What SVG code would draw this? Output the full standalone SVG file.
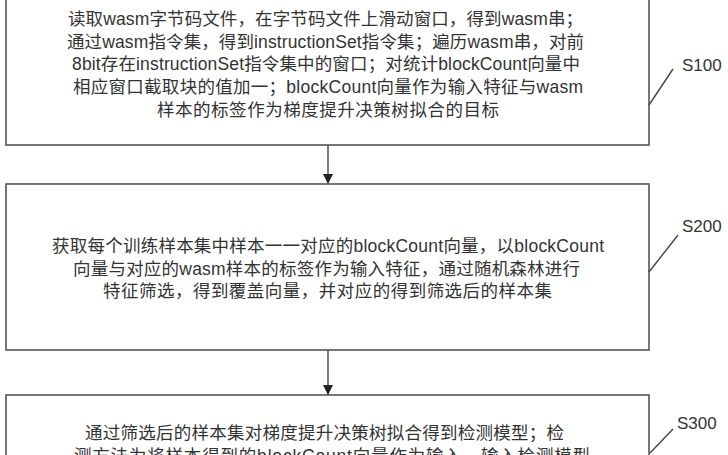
<svg xmlns="http://www.w3.org/2000/svg" width="728" height="455" viewBox="0 0 728 455">
<style>
.box{fill:#ffffff;stroke:#555555;stroke-width:1.6}
.t{font-family:'Liberation Sans','Noto Sans CJK SC',sans-serif;font-size:17.5px;fill:#333333}
.lbl{font-family:'Liberation Sans',Arial,sans-serif;font-size:17px;fill:#333333}
.ln{stroke:#444444;stroke-width:1.4;fill:none}
</style>
<defs>
<marker id="ah" markerWidth="10" markerHeight="12" refX="9" refY="5" orient="auto" markerUnits="userSpaceOnUse">
<path d="M0,0 L10,5 L0,10 Z" fill="#222222"/>
</marker>
</defs>
<rect width="728" height="455" fill="#ffffff"/>
<g id="connectors">
<line class="ln" x1="328" y1="145" x2="328" y2="183" marker-end="url(#ah)"/>
<line class="ln" x1="328" y1="350" x2="328" y2="394" marker-end="url(#ah)"/>
</g>
<g id="S100">
<rect class="box" x="6" y="-5" width="643" height="150"/>
<text class="t" x="68" y="25" textLength="515" lengthAdjust="spacing">读取wasm字节码文件，在字节码文件上滑动窗口，得到wasm串；</text>
<text class="t" x="67" y="48" textLength="517" lengthAdjust="spacing">通过wasm指令集，得到instructionSet指令集；遍历wasm串，对前</text>
<text class="t" x="72" y="70" textLength="508" lengthAdjust="spacing">8bit存在instructionSet指令集中的窗口；对统计blockCount向量中</text>
<text class="t" x="73" y="93" textLength="510" lengthAdjust="spacing">相应窗口截取块的值加一；blockCount向量作为输入特征与wasm</text>
<text class="t" x="157" y="116" textLength="342" lengthAdjust="spacing">样本的标签作为梯度提升决策树拟合的目标</text>
<line class="ln" x1="649" y1="105" x2="673" y2="69"/>
<text class="lbl" x="682" y="71">S100</text>
</g>
<g id="S200">
<rect class="box" x="6" y="184" width="643" height="166"/>
<text class="t" x="52" y="252" textLength="552" lengthAdjust="spacing">获取每个训练样本集中样本一一对应的blockCount向量，以blockCount</text>
<text class="t" x="73" y="275" textLength="507" lengthAdjust="spacing">向量与对应的wasm样本的标签作为输入特征，通过随机森林进行</text>
<text class="t" x="103" y="297" textLength="449" lengthAdjust="spacing">特征筛选，得到覆盖向量，并对应的得到筛选后的样本集</text>
<line class="ln" x1="649" y1="272" x2="678" y2="235"/>
<text class="lbl" x="682" y="232">S200</text>
</g>
<g id="S300">
<rect class="box" x="6" y="395" width="643" height="90"/>
<text class="t" x="85" y="439" textLength="479" lengthAdjust="spacing">通过筛选后的样本集对梯度提升决策树拟合得到检测模型；检</text>
<text class="t" x="74" y="462" textLength="516" lengthAdjust="spacing">测方法为将样本得到的blockCount向量作为输入，输入检测模型</text>
<line class="ln" x1="650" y1="453" x2="673" y2="429"/>
<text class="lbl" x="677" y="429">S300</text>
</g>
</svg>
